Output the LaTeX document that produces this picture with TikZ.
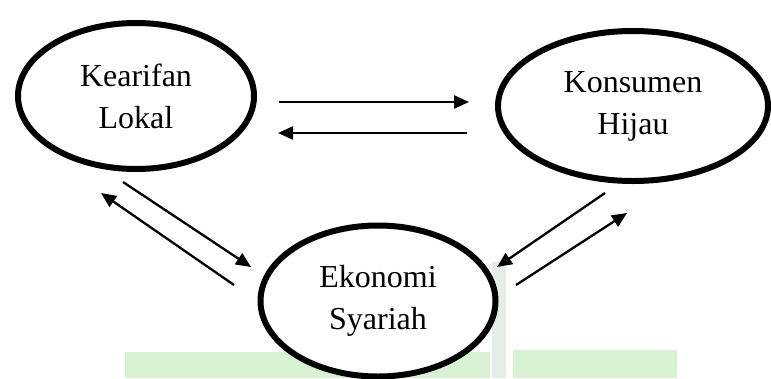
\documentclass[tikz,border=0pt]{standalone}
\usepackage{fontspec}
\setmainfont{Liberation Serif}
\usetikzlibrary{arrows.meta,shapes.geometric}
\definecolor{wmgreen}{RGB}{218,242,212}
\definecolor{wmgrey}{RGB}{230,237,230}
\begin{document}
\begin{tikzpicture}[x=1pt,y=-1pt,
  bubble/.style={ellipse,draw=black,line width=6pt,fill=white,inner sep=0pt,align=center,font=\fontsize{32}{42}\selectfont},
  conn/.style={line width=2.3pt,-{Triangle[length=15pt,width=13pt]}}]
\useasboundingbox (0,0) rectangle (771,378);
% faint watermark
\fill[wmgreen] (125,352) rectangle (490,378);
\fill[wmgreen] (513,350) rectangle (677,378);
\fill[wmgrey] (492,262) rectangle (506,378);
% nodes
\node[bubble,minimum width=236pt,minimum height=146pt] (kl) at (136,96) {Kearifan\\Lokal};
\node[bubble,minimum width=270pt,minimum height=150pt] (kh) at (633,106) {Konsumen\\Hijau};
\node[bubble,minimum width=235pt,minimum height=151pt] (es) at (378,301) {Ekonomi\\Syariah};
% free connector ends
\coordinate (a1) at (279,102); \coordinate (a2) at (469,102);
\coordinate (b1) at (467,133); \coordinate (b2) at (278,133);
\coordinate (c1) at (123,182); \coordinate (c2) at (251,267);
\coordinate (d1) at (234,285); \coordinate (d2) at (101,193);
\coordinate (e1) at (605,193); \coordinate (e2) at (497,267);
\coordinate (f1) at (516,285); \coordinate (f2) at (627,213);
\draw[conn] (a1) -- (a2);
\draw[conn] (b1) -- (b2);
\draw[conn] (c1) -- (c2);
\draw[conn] (d1) -- (d2);
\draw[conn] (e1) -- (e2);
\draw[conn] (f1) -- (f2);
\end{tikzpicture}
\end{document}
